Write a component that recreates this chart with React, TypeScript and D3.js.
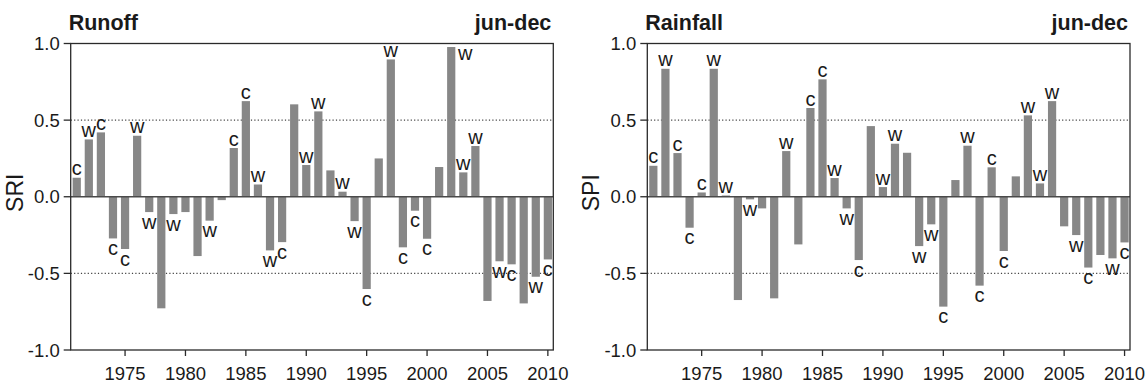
import * as d3 from "d3";

// years on the x axis
const years = [
  1971, 1972, 1973, 1974, 1975, 1976, 1977, 1978, 1979, 1980,
  1981, 1982, 1983, 1984, 1985, 1986, 1987, 1988, 1989, 1990,
  1991, 1992, 1993, 1994, 1995, 1996, 1997, 1998, 1999, 2000,
  2001, 2002, 2003, 2004, 2005, 2006, 2007, 2008, 2009, 2010,
];

// standardized runoff index, jun-dec
const sriValues = [
  0.124, 0.374, 0.42, -0.272, -0.341, 0.398, -0.1, -0.728, -0.113, -0.1,
  -0.387, -0.156, -0.022, 0.318, 0.624, 0.08, -0.35, -0.296, 0.603, 0.207,
  0.557, 0.172, 0.033, -0.159, -0.602, 0.25, 0.896, -0.33, -0.091, -0.274,
  0.194, 0.977, 0.159, 0.331, -0.68, -0.421, -0.441, -0.696, -0.522, -0.409,
];

// standardized precipitation index, jun-dec
const spiValues = [
  0.202, 0.835, 0.285, -0.202, 0.028, 0.835, 0.008, -0.674, -0.017, -0.076,
  -0.663, 0.298, -0.311, 0.579, 0.766, 0.122, -0.076, -0.413, 0.461, 0.063,
  0.346, 0.287, -0.322, -0.18, -0.717, 0.109, 0.333, -0.58, 0.192, -0.354,
  0.133, 0.531, 0.087, 0.624, -0.193, -0.25, -0.462, -0.38, -0.402, -0.298,
];

// phase marker per year (c = cold, w = warm, "" = none)
const phaseLabels = [
  "c", "w", "c", "c", "c", "w", "w", "", "w", "",
  "", "w", "", "c", "c", "w", "w", "c", "", "w",
  "w", "", "w", "w", "c", "", "w", "c", "c", "c",
  "", "w", "w", "w", "", "w", "c", "", "w", "c",
];

const xTicks = [1975, 1980, 1985, 1990, 1995, 2000, 2005, 2010];
const yTicks = [-1.0, -0.5, 0.0, 0.5, 1.0];

const FONT = "'Liberation Sans', Arial, Helvetica, sans-serif";
const TOP = 43.5;
const BOTTOM = 350;

interface PanelProps {
  x0: number;
  x1: number;
  title: string;
  yLabel: string;
  values: number[];
}

function Panel({ x0, x1, title, yLabel, values }: PanelProps) {
  const x = d3.scaleLinear().domain([1970.5, 2010.45]).range([x0, x1]);
  const y = d3.scaleLinear().domain([-1, 1]).range([BOTTOM, TOP]);
  const barW = (x(1971) - x(1970)) * 0.68;
  const axisColor = "#2a2a2a";

  return (
    <g fontFamily={FONT} fill="#1a1a1a">
      {/* titles */}
      <text x={x0 - 2} y={30} fontSize={21.5} fontWeight="bold">
        {title}
      </text>
      <text x={x1 - 2} y={30} fontSize={21.5} fontWeight="bold" textAnchor="end">
        jun-dec
      </text>

      {/* dotted reference lines */}
      {[0.5, -0.5].map((v) => (
        <line
          key={v}
          x1={x0}
          x2={x1}
          y1={y(v)}
          y2={y(v)}
          stroke="#444"
          strokeWidth={1.2}
          strokeDasharray="1.2 2.2"
        />
      ))}

      {/* bars */}
      {values.map((v, i) => (
        <rect
          key={years[i]}
          x={x(years[i]) - barW / 2}
          y={y(Math.max(0, v))}
          width={barW}
          height={Math.abs(y(v) - y(0))}
          fill="#878787"
        />
      ))}

      {/* zero line */}
      <line x1={x0} x2={x1} y1={y(0)} y2={y(0)} stroke="#4a4a4a" strokeWidth={1.5} />

      {/* phase labels */}
      {values.map((v, i) => {
        const lab = phaseLabels[i];
        if (!lab) return null;
        let lx = x(years[i]);
        let ly = v >= 0 ? y(v) - 2.5 : y(v) + 16.5;
        if (v >= 0 && ly - 11 < TOP) {
          // no room above: put it to the right of the bar
          lx = lx + 14;
          ly = y(v) + 13;
        }
        return (
          <text key={"l" + years[i]} x={lx} y={ly} fontSize={20} textAnchor="middle">
            {lab}
          </text>
        );
      })}

      {/* box */}
      <rect
        x={x0}
        y={TOP}
        width={x1 - x0}
        height={BOTTOM - TOP}
        fill="none"
        stroke={axisColor}
        strokeWidth={1.3}
      />

      {/* y axis */}
      {yTicks.map((t) => (
        <g key={t}>
          <line x1={x0 - 7} x2={x0} y1={y(t)} y2={y(t)} stroke={axisColor} strokeWidth={1.3} />
          <text x={x0 - 11} y={y(t) + 6.5} fontSize={18.5} textAnchor="end">
            {t.toFixed(1)}
          </text>
        </g>
      ))}
      <text
        transform={`translate(${x0 - 48},${(TOP + BOTTOM) / 2 - 4}) rotate(-90)`}
        fontSize={23}
        textAnchor="middle"
      >
        {yLabel}
      </text>

      {/* x axis */}
      {xTicks.map((t) => (
        <g key={t}>
          <line x1={x(t)} x2={x(t)} y1={BOTTOM} y2={BOTTOM + 6} stroke={axisColor} strokeWidth={1.3} />
          <text x={x(t)} y={379.5} fontSize={18.5} textAnchor="middle">
            {t}
          </text>
        </g>
      ))}
    </g>
  );
}

export default function App() {
  return (
    <svg
      width={1145}
      height={383}
      style={{ position: "absolute", left: 0, top: 0, background: "#fff" }}
    >
      <Panel x0={70.7} x1={553.3} title="Runoff" yLabel="SRI" values={sriValues} />
      <Panel x0={647.3} x1={1130} title="Rainfall" yLabel="SPI" values={spiValues} />
    </svg>
  );
}
